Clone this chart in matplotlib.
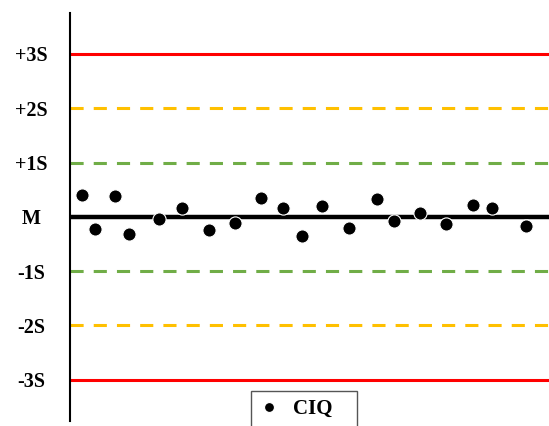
"""
Levey-Jennings style control chart (CIQ)
"""
import matplotlib
matplotlib.use('Agg')
import matplotlib.pyplot as plt

# control limits, in units of S around the mean M
limit_levels = [3, 2, 1, 0, -1, -2, -3]
limit_labels = ['+3S', '+2S', '+1S', 'M', '-1S', '-2S', '-3S']
limit_colors = ['#FF0000', '#FFC000', '#70AD47', '#000000', '#70AD47', '#FFC000', '#FF0000']
limit_styles = ['solid', 'dashed', 'dashed', 'solid', 'dashed', 'dashed', 'solid']

# control results
run_x = [12, 25, 45, 59, 89, 112, 139, 165, 191, 213,
         232, 252, 279, 307, 324, 350, 376, 403, 422, 456]
run_y = [0.40, -0.22, 0.38, -0.32, -0.04, 0.17, -0.24, -0.11, 0.34, 0.17,
         -0.36, 0.20, -0.20, 0.32, -0.08, 0.07, -0.14, 0.22, 0.17, -0.16]


def main():
    plt.rcParams['font.family'] = ['Liberation Serif', 'DejaVu Serif']
    fig = plt.figure(figsize=(5.49, 4.26), dpi=100)
    ax = fig.add_axes([70 / 549, 5 / 426, 479 / 549, 408 / 426])

    for lvl, col, ls in zip(limit_levels, limit_colors, limit_styles):
        if lvl == 0:
            ax.axhline(lvl, color=col, lw=3.2, zorder=2)
        elif ls == 'dashed':
            ax.axhline(lvl, color=col, lw=2.2, dashes=(4.3, 3.3), zorder=2)
        else:
            ax.axhline(lvl, color=col, lw=2.2, zorder=2)

    ax.plot(run_x, run_y, 'o', color='black', markersize=9.5,
            markeredgecolor='white', markeredgewidth=0.8, label='CIQ', zorder=3)

    ax.set_xlim(0, 479)
    ax.set_ylim(-3.76, 3.755)
    ax.set_xticks([])
    ax.set_yticks(limit_levels)
    ax.set_yticklabels(limit_labels, fontsize=14.5, fontweight='bold')
    ax.tick_params(axis='y', length=0, pad=28)
    for lab in ax.get_yticklabels():
        lab.set_horizontalalignment('center')

    for side in ('top', 'right', 'bottom'):
        ax.spines[side].set_visible(False)
    ax.spines['left'].set_linewidth(1.5)

    leg = ax.legend(loc='upper left', bbox_to_anchor=(0.378, 0.0, 0.221, 0.0735),
                    mode='expand', borderaxespad=0,
                    fancybox=False, edgecolor='#555555', framealpha=1,
                    prop={'weight': 'bold', 'size': 15},
                    handletextpad=0.7, borderpad=0.4, markerscale=0.75,
                    handlelength=0.9)
    leg.get_frame().set_linewidth(1.0)

    fig.savefig('out.png', dpi=100)
    plt.close(fig)


if __name__ == "__main__":
    main()
